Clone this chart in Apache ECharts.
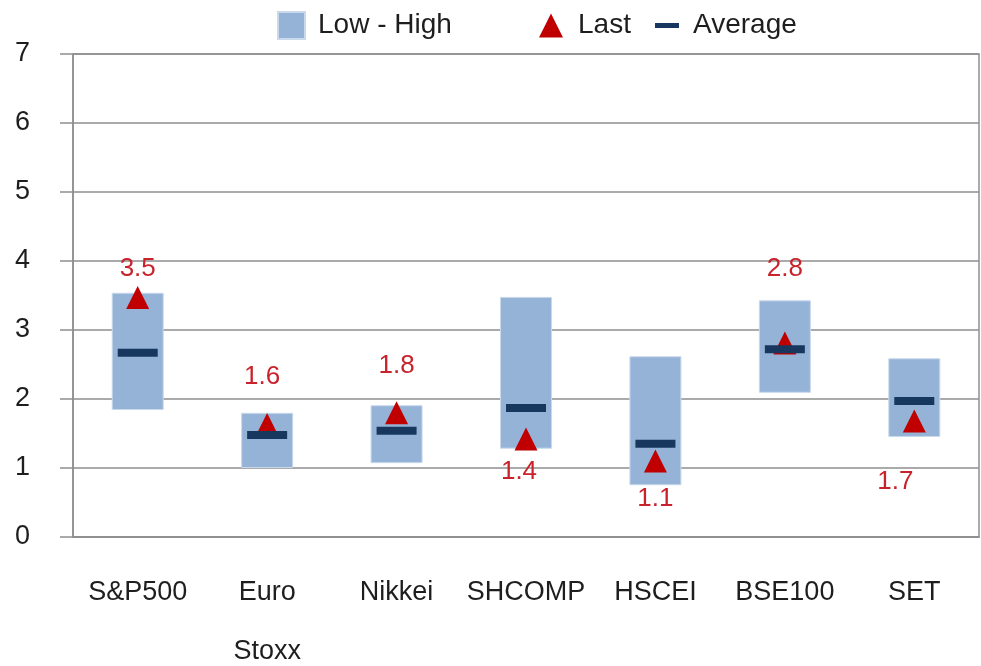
<!DOCTYPE html>
<html>
<head>
<meta charset="utf-8">
<script src="https://cdn.jsdelivr.net/npm/echarts@6/dist/echarts.min.js"></script>
<style>html,body{margin:0;padding:0;background:#fff;}#c{width:981px;height:666px;}</style>
</head>
<body>
<div id="c"></div>
<script>
var categories = ['S&P500', 'Euro\nStoxx', 'Nikkei', 'SHCOMP', 'HSCEI', 'BSE100', 'SET'];
var lowValues = [1.84, 1.00, 1.07, 1.28, 0.75, 2.09, 1.45];
var highValues = [3.54, 1.80, 1.91, 3.48, 2.62, 3.43, 2.59];
var avgValues = [2.67, 1.48, 1.54, 1.87, 1.35, 2.72, 1.97];
var lastValues = [3.47, 1.63, 1.80, 1.42, 1.10, 2.81, 1.68];
var yTicks = [0, 1, 2, 3, 4, 5, 6, 7];

var FONT = '"Liberation Sans", Arial, sans-serif';
var GRAY = '#8e8e8e';
var TEXT = '#1e1e1e';
var labelShift = [[0,-29],[-5,-48],[0,-47],[-7,33],[0,38],[0,-74],[-19,61]];

var chart = echarts.init(document.getElementById('c'), null, {renderer: 'canvas'});
var rangeData = highValues.map(function (h, i) { return +(h - lowValues[i]).toFixed(3); });
var lastData = lastValues.map(function (v, i) {
  return {value: v, label: {offset: labelShift[i]}};
});

function legendText(padLeft) {
  return {fontFamily: FONT, fontSize: 28, color: TEXT, lineHeight: 27, padding: [0, 0, 10, padLeft]};
}
var option = {
  animation: false,
  legend: [
    {data: [{name: 'Low - High', icon: 'rect'}], left: 277, top: 7, padding: 0, itemWidth: 27, itemHeight: 27,
     textStyle: legendText(8)},
    {data: [{name: 'Last', icon: 'triangle'}], left: 539, top: 7, padding: 0, itemWidth: 24, itemHeight: 24,
     textStyle: legendText(10)},
    {data: [{name: 'Average', icon: 'rect'}], left: 655, top: 7, padding: 0, itemWidth: 24, itemHeight: 5,
     textStyle: legendText(9)}
  ],
  grid: {left: 73, right: 2, top: 54, bottom: 129, outerBoundsMode: 'none', containLabel: false,
         show: true, borderColor: GRAY, borderWidth: 1.5, backgroundColor: 'transparent'},
  xAxis: {
    type: 'category',
    data: categories,
    boundaryGap: true,
    axisLine: {lineStyle: {color: GRAY, width: 1.5}},
    axisTick: {length: 11, lineStyle: {color: GRAY, width: 1.5}},
    axisLabel: {fontFamily: FONT, fontSize: 27, color: TEXT, margin: 26, lineHeight: 59, interval: 0}
  },
  yAxis: {
    type: 'value',
    min: 0, max: 7, interval: 1,
    axisLine: {show: true, lineStyle: {color: GRAY, width: 1.5}},
    axisTick: {show: true, length: 13, lineStyle: {color: GRAY, width: 1.5}},
    splitLine: {lineStyle: {color: GRAY, width: 1.5}},
    axisLabel: {fontFamily: FONT, fontSize: 27, color: TEXT, margin: 58, align: 'left',
      formatter: function (v) { return yTicks.indexOf(v) >= 0 ? String(v) : ''; }}
  },
  series: [
    {name: 'base', type: 'bar', stack: 'r', data: lowValues, barWidth: 52,
     itemStyle: {color: 'transparent'}, silent: true},
    {name: 'Low - High', type: 'bar', stack: 'r', data: rangeData, barWidth: 52,
     itemStyle: {color: '#95B3D7', borderColor: '#C9D9EC', borderWidth: 1, opacity: 1}},
    {name: 'Last', type: 'scatter', data: lastData, symbol: 'triangle', symbolSize: [23, 23],
     itemStyle: {color: '#C00000', opacity: 1}, z: 3,
     label: {show: true, position: 'inside', fontFamily: FONT, fontSize: 26, color: '#C8232C',
       formatter: function (p) { return p.value.toFixed(1); }}},
    {name: 'Average', type: 'scatter', data: avgValues, symbol: 'rect', symbolSize: [40, 8],
     itemStyle: {color: '#17375E', opacity: 1}, z: 4}
  ]
};
chart.setOption(option);
</script>
</body>
</html>
